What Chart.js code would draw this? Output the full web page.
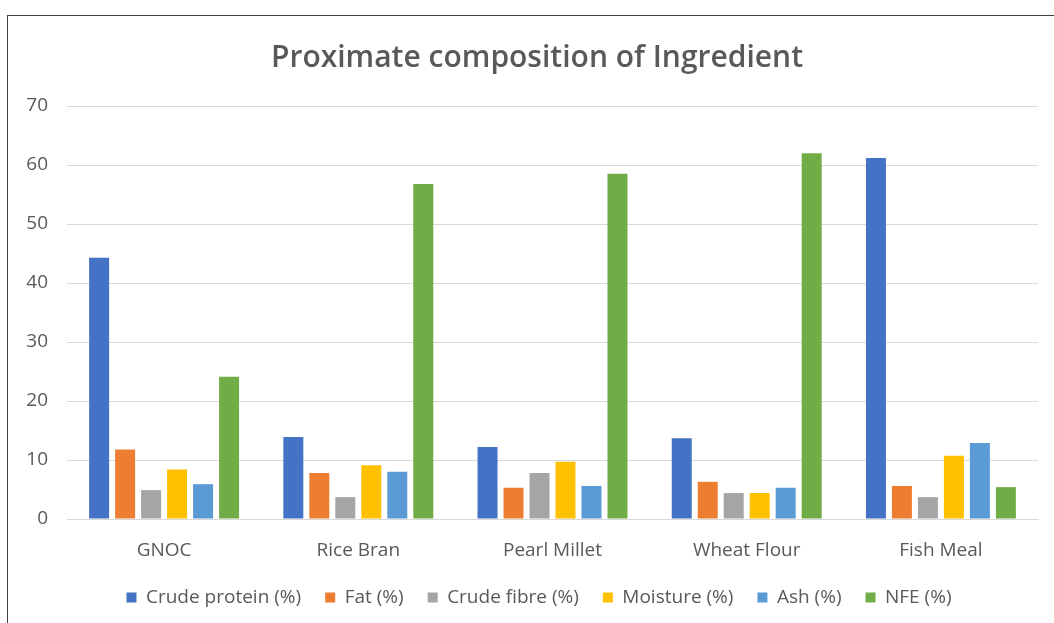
<!DOCTYPE html>
<html>
<head>
<meta charset="utf-8">
<script src="https://cdn.jsdelivr.net/npm/chart.js@4/dist/chart.umd.min.js"></script>
<style>
  html, body { margin: 0; padding: 0; background: #ffffff; }
  #wrap { position: relative; width: 1054px; height: 623px; overflow: hidden; }
  #frame { position: absolute; left: 7px; top: 15px; right: -2px; bottom: -2px;
           border-top: 1px solid #404040; border-left: 1px solid #404040; }
  canvas { position: absolute; left: 0; top: 0; }
</style>
</head>
<body>
<div id="wrap">
  <div id="frame"></div>
  <canvas id="chart" width="1054" height="623"></canvas>
</div>
<script>
// Ingredients on the category axis
const ingredients = ['GNOC', 'Rice Bran', 'Pearl Millet', 'Wheat Flour', 'Fish Meal'];

// Proximate components, one series each (percent)
const crudeProtein = [44.3, 13.9, 12.2, 13.7, 61.2];
const fat          = [11.8, 7.8, 5.3, 6.3, 5.6];
const crudeFibre   = [4.9, 3.7, 7.8, 4.4, 3.7];
const moisture     = [8.4, 9.1, 9.7, 4.4, 10.7];
const ash          = [5.9, 8.0, 5.6, 5.3, 12.9];
const nfe          = [24.1, 56.8, 58.5, 62.0, 5.4];

const seriesNames  = ['Crude protein (%)', 'Fat (%)', 'Crude fibre (%)', 'Moisture (%)', 'Ash (%)', 'NFE (%)'];
const seriesValues = [crudeProtein, fat, crudeFibre, moisture, ash, nfe];
const seriesColors = ['#4472C4', '#ED7D31', '#A5A5A5', '#FFC000', '#5B9BD5', '#70AD47'];

// Value axis
const yMin = 0, yMax = 70, yStep = 10;

const textColor = '#595959';
const gridColor = '#d9d9d9';

Chart.defaults.font.family = "'Open Sans', 'DejaVu Sans', sans-serif";
Chart.defaults.color = textColor;

// Nudge the centred title and legend toward the middle of the plot
const centreShift = {
  id: 'centreShift',
  afterLayout(chart) {
    const t = chart.titleBlock, l = chart.legend;
    if (t) { t.left += 8; t.right += 8; }
    if (l) { l.left += 10; l.right += 10; }
  }
};

new Chart(document.getElementById('chart'), {
  type: 'bar',
  data: {
    labels: ingredients,
    datasets: seriesNames.map((name, i) => ({
      label: name,
      data: seriesValues[i],
      backgroundColor: seriesColors[i],
      borderWidth: 0,
      categoryPercentage: 0.803,
      barPercentage: 0.769
    }))
  },
  options: {
    responsive: false,
    animation: false,
    devicePixelRatio: 1,
    layout: { padding: { left: 20, right: 16, top: 0, bottom: 6 } },
    plugins: {
      title: {
        display: true,
        text: 'Proximate composition of Ingredient',
        color: textColor,
        font: { size: 30, weight: '600' },
        padding: { top: 40, bottom: 30 }
      },
      legend: {
        position: 'bottom',
        labels: {
          boxWidth: 10,
          boxHeight: 10,
          padding: 24,
          color: textColor,
          font: { size: 19 }
        }
      },
      tooltip: { enabled: false }
    },
    scales: {
      x: {
        grid: { display: false, drawTicks: false },
        border: { display: true, color: gridColor, width: 1 },
        ticks: { padding: 19, color: textColor, font: { size: 19, lineHeight: '26px' } },
        afterFit(scale) { scale.height = 45; }
      },
      y: {
        min: yMin,
        max: yMax,
        grid: { color: gridColor, lineWidth: 1, drawTicks: false },
        border: { display: false },
        ticks: { stepSize: yStep, padding: 19, color: textColor, font: { size: 19 } },
        afterFit(scale) { scale.width = 47; }
      }
    }
  },
  plugins: [centreShift]
});
</script>
</body>
</html>
